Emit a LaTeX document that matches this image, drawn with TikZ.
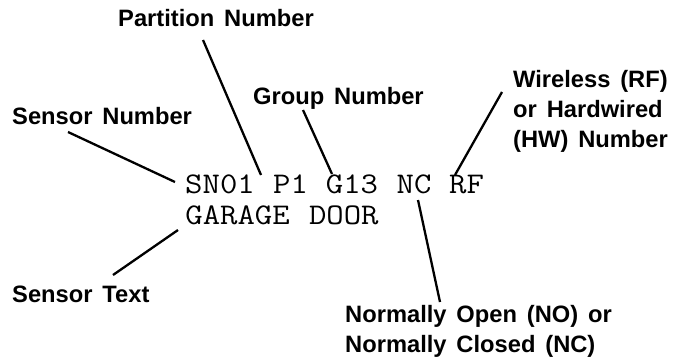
\documentclass[tikz,border=0pt]{standalone}
\usepackage{fontspec}
\usepackage{graphicx}
\newfontfamily\labfont[WordSpace=1.5]{Liberation Sans}
\newcommand\monotok[1]{\scalebox{1.125}[1]{#1}}
\begin{document}
\begin{tikzpicture}[x=1pt,y=-1pt,
  lab/.style={font=\labfont\bfseries\fontsize{23.7}{30}\selectfont, inner sep=0pt},
  tok/.style={font=\ttfamily\fontsize{30}{31}\selectfont, inner sep=0pt, anchor=base},
  conn/.style={line width=2.3pt}]
\useasboundingbox (0,0) rectangle (676,362);
% labels
\node[lab, anchor=base west] (partition) at (118,26) {Partition Number};
\node[lab, anchor=base west] (sensnum) at (12,124) {Sensor Number};
\node[lab, anchor=base west] (group) at (253,104) {Group Number};
\node[lab, anchor=north west, align=left] (wireless) at (513,70.5) {Wireless (RF)\\or Hardwired\\(HW) Number};
\node[lab, anchor=base west] (senstext) at (12,302) {Sensor Text};
\node[lab, anchor=north west, align=left] (normally) at (345,305.5) {Normally Open (NO) or\\Normally Closed (NC)};
% display tokens
\node[tok] (sn) at (220,193) {\monotok{SN01}};
\node[tok] (p) at (290.5,193) {\monotok{P1}};
\node[tok] (g) at (352,193) {\monotok{G13}};
\node[tok] (nc) at (414,193) {\monotok{NC}};
\node[tok] (rf) at (466.5,193) {\monotok{RF}};
\node[tok] (garage) at (237.6,224) {\monotok{GARAGE}};
\node[tok] (door) at (343.8,224) {\monotok{DOOR}};
% connectors
\draw[conn] ([xshift=56pt,yshift=-8pt]sensnum.base west) -- ([xshift=-45pt,yshift=11pt]sn.base);
\draw[conn] ([xshift=85pt,yshift=-14pt]partition.base west) -- ([xshift=-29.5pt,yshift=18pt]p.base);
\draw[conn] ([xshift=50pt,yshift=-6pt]group.base west) -- ([xshift=-20pt,yshift=19pt]g.base);
\draw[conn] ([xshift=-11pt,yshift=-21.5pt]wireless.north west) -- ([xshift=-11.5pt,yshift=18pt]rf.base);
\draw[conn] ([xshift=4pt,yshift=-7pt]nc.base) -- ([xshift=95pt,yshift=3.5pt]normally.north west);
\draw[conn] ([xshift=-59.6pt,yshift=-6pt]garage.base) -- ([xshift=101pt,yshift=27pt]senstext.base west);
\end{tikzpicture}
\end{document}
